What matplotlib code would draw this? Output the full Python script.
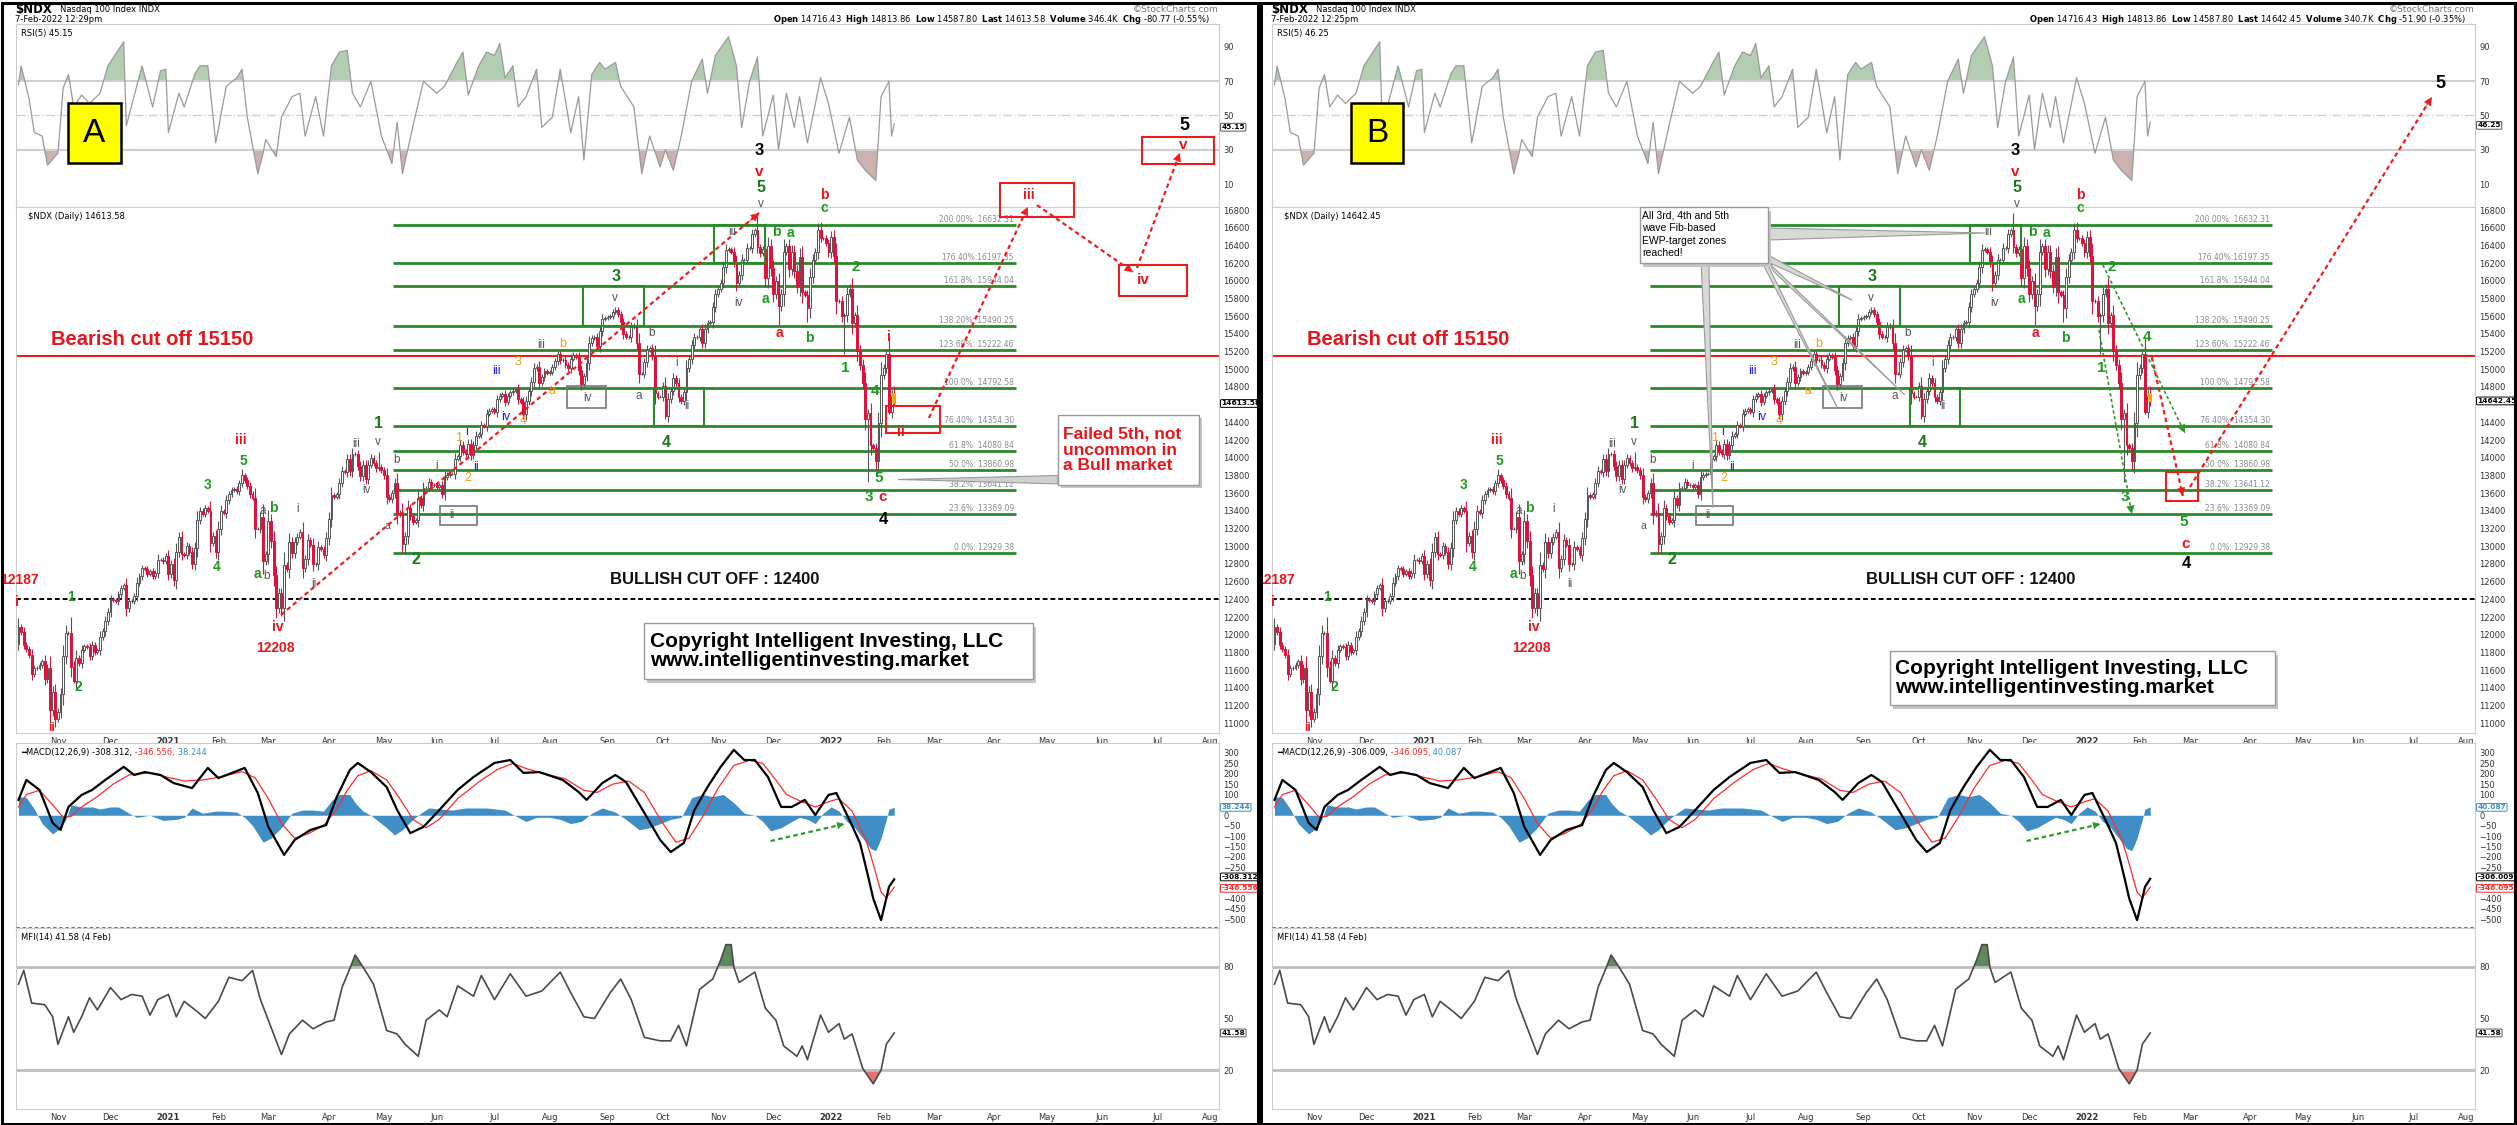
import numpy as np
import pandas as pd
import matplotlib
matplotlib.use('Agg')
import matplotlib.pyplot as plt
from matplotlib.patches import Rectangle, Polygon
from matplotlib.transforms import blended_transform_factory

W, H = 2517, 1125
plt.rcParams['font.family'] = ['DejaVu Sans']
LAB_FONT = 'Liberation Sans'

# NYSE holidays in the plotted range (x axis is in trading days)
holidays = ['2020-11-26', '2020-12-25', '2021-01-01', '2021-01-18', '2021-02-15',
            '2021-04-02', '2021-05-31', '2021-07-05', '2021-09-06', '2021-11-25',
            '2021-12-24', '2022-01-17', '2022-02-21', '2022-04-15', '2022-05-30',
            '2022-06-20', '2022-07-04']

# NDX daily closes 12-Oct-2020 .. 7-Feb-2022
ndx_close = [
    # Oct 2020
    12088, 12030, 11890, 11840, 11770, 11560, 11620, 11630, 11660, 11700, 11500, 11620, 11150, 11350, 11050,
    # Nov
    11130, 11330, 11760, 12020, 12020, 11640, 11480, 11740, 11680, 11830, 11870, 11860, 11760, 11880, 11810,
    11830, 11980, 12040, 12160, 12260,
    # Dec
    12400, 12390, 12380, 12460, 12530, 12560, 12300, 12380, 12380, 12440, 12590, 12660, 12750, 12740, 12690,
    12720, 12660, 12700, 12850, 12850, 12830, 12890,
    # Jan 2021
    12690, 12800, 12620, 12940, 13100, 12910, 12900, 13000, 12940, 12800, 12980, 13300, 13400, 13370, 13430,
    13400, 13040, 13120, 12930,
    # Feb
    13200, 13400, 13380, 13520, 13590, 13640, 13650, 13620, 13710, 13800, 13750, 13680, 13590, 13550, 13200,
    13200, 13330, 12830, 12910,
    # Mar
    13290, 13060, 12670, 12300, 12470, 12300, 12790, 12740, 13050, 12920, 13050, 13110, 13160, 12760, 12860,
    13070, 13020, 12800, 12800, 12990, 12970, 12900, 13090,
    # Apr
    13310, 13580, 13560, 13590, 13720, 13850, 13840, 13990, 13850, 14040, 14040, 13910, 13790, 13920, 13760,
    13920, 14000, 13940, 13880, 13900, 13860,
    # May
    13800, 13560, 13530, 13600, 13720, 13360, 13380, 13030, 13120, 13430, 13340, 13280, 13300, 13540, 13470,
    13660, 13660, 13730, 13690, 13690,
    # Jun
    13670, 13690, 13590, 13780, 13810, 13820, 13820, 13990, 14020, 14150, 14070, 14040, 14160, 14030, 14140,
    14250, 14270, 14370, 14360, 14500, 14530, 14550,
    # Jul
    14520, 14660, 14700, 14720, 14630, 14700, 14740, 14760, 14780, 14660, 14630, 14490, 14640, 14750, 14860,
    15010, 15030, 14850, 14910, 14980, 14960,
    # Aug
    14970, 15030, 15090, 15170, 15100, 15110, 15050, 15010, 15120, 15160, 15140, 14990, 14830, 14920, 15070,
    15300, 15350, 15360, 15260, 15430, 15570, 15580,
    # Sep
    15590, 15600, 15650, 15670, 15620, 15530, 15400, 15370, 15360, 15480, 15500, 15300, 14950, 14950, 15080,
    15220, 15240, 15150, 14730, 14690, 14690,
    # Oct
    14810, 14470, 14660, 14760, 14900, 14840, 14690, 14640, 14740, 15020, 15120, 15270, 15370, 15360, 15450,
    15300, 15450, 15520, 15530, 15700, 15850,
    # Nov
    15910, 15980, 16160, 16350, 16360, 16330, 16210, 15970, 16070, 16240, 16240, 16370, 16370, 16530, 16570,
    16380, 16310, 16360, 16030, 16390, 16140,
    # Dec
    15850, 16000, 15710, 15850, 16330, 16390, 16130, 16330, 16110, 15930, 16270, 15870, 15840, 15690, 16040,
    16230, 16330, 16570, 16480, 16480, 16430, 16320,
    # Jan 2022
    16500, 16280, 15770, 15770, 15600, 15610, 15850, 15910, 15520, 15610, 15210, 15050, 14850, 14440, 14510,
    14140, 14110, 13960, 14390, 14930,
    # Feb
    15020, 15170, 14520, 14700, 14614,
]
first_open = 11900
# intraday extremes that stand out on the chart
wick_high = {'2020-10-12': 12190, '2020-11-09': 12205, '2021-02-12': 13874, '2021-04-29': 14070,
             '2021-09-07': 15700, '2021-11-22': 16764, '2021-12-28': 16660, '2022-01-12': 15960,
             '2022-02-02': 15230}
wick_low = {'2020-10-30': 10960, '2020-11-10': 11450, '2021-03-05': 12250, '2021-03-08': 12208,
            '2021-05-13': 12929, '2021-10-04': 14440, '2021-12-03': 15500, '2021-12-20': 15540,
            '2022-01-10': 15168, '2022-01-24': 13725, '2022-01-27': 13870, '2022-02-03': 14500}
# 7-Feb-2022 intraday bar from the header
today_open, today_high, today_low = 14716.43, 14813.86, 14587.80
last_a, last_b = 14613.58, 14642.45

# RSI(5): trading-day number, value
rsi_day = [0, 1, 4, 6, 9, 11, 15, 17, 19, 21, 24, 27, 31, 34, 40, 41, 47, 51, 54, 56, 57, 61, 63, 67, 69, 72,
           75, 79, 83, 85, 87, 91, 93, 94, 98, 100, 104, 107, 109, 113, 116, 119, 122, 125, 127, 130, 134, 138,
           142, 144, 146, 150, 154, 159, 162, 166, 169, 171, 175, 178, 181, 183, 185, 188, 190, 193, 197, 199,
           203, 206, 210, 213, 215, 218, 221, 223, 227, 229, 234, 237, 240, 244, 246, 249, 252, 256, 260, 262,
           265, 270, 273, 275, 278, 281, 283, 287, 289, 292, 295, 297, 300, 305, 308, 312, 316, 319, 322, 326,
           328, 331, 332, 333]
rsi_val = [68, 79, 60, 40, 38, 21, 28, 66, 74, 55, 62, 57, 63, 79, 93, 44, 79, 55, 76, 77, 40, 63, 55, 74, 79, 79,
           34, 67, 72, 77, 49, 16, 28, 36, 26, 49, 61, 63, 38, 61, 38, 79, 87, 88, 63, 55, 70, 38,
           22, 46, 16, 44, 70, 63, 67, 79, 87, 62, 79, 87, 85, 92, 72, 79, 55, 61, 77, 43,
           49, 77, 40, 61, 24, 74, 81, 77, 81, 67, 55, 16, 38, 20, 30, 18, 38, 70, 83, 63,
           85, 96, 79, 43, 70, 84, 38, 62, 30, 63, 43, 61, 34, 72, 57, 28, 49, 24, 18, 12,
           61, 70, 38, 45.15]

# MACD(12,26,9)
macd_day = [0, 3, 8, 13, 16, 19, 24, 28, 33, 40, 44, 48, 54, 59, 66, 72, 76, 82, 86, 91, 95, 101, 105, 111, 117,
            121, 126, 129, 134, 140, 144, 149, 154, 160, 167, 173, 181, 187, 192, 198, 207, 213, 216, 222, 227,
            231, 238, 244, 248, 253, 257, 262, 267, 272, 276, 280, 285, 290, 294, 299, 303, 308, 311, 316, 320,
            323, 325, 328, 330, 331, 333]
macd_val = [74, 170, 122, -37, -71, 40, 98, 122, 170, 233, 194, 208, 194, 155, 131, 228, 179, 208, 228, 107, -56,
            -191, -119, -71, -47, 88, 218, 252, 208, 136, 25, -86, -56, 25, 122, 184, 252, 266, 204, 208, 170,
            112, 74, 155, 194, 160, 11, -119, -177, -134, 25, 136, 233, 315, 266, 266, 184, 40, 40, 74, 1, 98,
            107, -23, -134, -290, -400, -505, -400, -345, -308.312]
sig_day = [0, 3, 8, 13, 17, 20, 24, 30, 36, 42, 50, 56, 63, 70, 77, 85, 90, 95, 100, 105, 110, 116, 121, 125,
           129, 134, 140, 145, 150, 155, 160, 167, 175, 182, 188, 193, 200, 208, 215, 220, 226, 232, 238, 244,
           250, 255, 260, 266, 272, 278, 283, 288, 292, 297, 303, 308, 312, 317, 320, 322, 324, 326, 328, 330,
           333]
sig_val = [40, 100, 120, 50, -10, -5, 40, 90, 150, 194, 205, 185, 165, 170, 185, 210, 180, 80, -40, -110, -90,
           -50, 30, 120, 190, 215, 170, 80, -20, -60, -20, 80, 160, 220, 250, 225, 200, 175, 120, 110, 150,
           165, 110, -20, -130, -110, -10, 130, 240, 265, 250, 170, 100, 70, 40, 65, 80, 20, -60, -110, -190,
           -280, -370, -398, -346.556]
hist_day = [0, 3, 6, 9, 13, 16, 18, 20, 24, 28, 31, 35, 38, 42, 45, 50, 55, 60, 63, 66, 70, 75, 78, 83, 86, 89,
            93, 96, 100, 104, 108, 112, 116, 119, 122, 126, 128, 131, 134, 137, 140, 143, 146, 150, 153, 156,
            160, 165, 170, 178, 185, 190, 193, 197, 202, 206, 210, 214, 218, 222, 227, 231, 236, 240, 244, 248,
            252, 256, 260, 264, 268, 272, 276, 280, 283, 286, 290, 294, 297, 300, 303, 306, 309, 312, 315, 318,
            321, 324, 326, 328, 330, 331, 333]
hist_val = [90, 85, 30, -40, -90, -60, -20, 50, 40, 40, 30, 40, 40, 10, -10, 0, -25, -20, -10, 35, 10, 20, 20, 15,
            -10, -50, -130, -110, -60, 10, 25, 25, 20, 70, 100, 100, 60, 20, 0, -30, -60, -95, -70, -20, 10, 35,
            30, 25, 35, 35, 25, -10, -30, -10, -10, -20, -40, -30, 10, 35, 15, -20, -70, -60, -40, -20, -10, 85,
            100, 90, 100, 60, 10, 0, -30, -75, -60, -30, -10, -20, -40, 10, 40, 20, -30, -60, -110, -160, -170,
            -110, -20, 30, 38.244]

# MFI(14)
mfi_day = [0, 2, 5, 10, 13, 15, 19, 21, 24, 27, 30, 35, 39, 43, 47, 50, 53, 57, 60, 63, 68, 71, 76, 80, 85, 89,
           92, 97, 100, 103, 108, 112, 117, 120, 123, 126, 128, 131, 135, 140, 144, 147, 152, 155, 160, 163, 167,
           173, 176, 181, 187, 193, 199, 206, 210, 215, 219, 225, 229, 233, 238, 244, 248, 251, 254, 259, 264,
           267, 269, 271, 272, 274, 280, 284, 288, 291, 296, 298, 300, 305, 308, 312, 314, 317, 321, 325, 328,
           330, 333]
mfi_val = [70, 78, 59, 58, 51, 35, 51, 42, 51, 62, 55, 68, 61, 64, 63, 52, 61, 64, 51, 60, 54, 50, 60, 74, 72, 78,
           61, 41, 29, 41, 49, 44, 48, 49, 68, 79, 87, 80, 70, 43, 41, 35, 28, 49, 55, 51, 69,
           63, 75, 61, 76, 63, 66, 77, 65, 51, 50, 65, 73, 61, 39, 37, 37, 46, 34, 67, 73,
           84, 93, 93, 80, 71, 77, 56, 49, 34, 28, 34, 26, 52, 42, 47, 38, 41, 21, 12, 20,
           35, 41.58]

# Fibonacci extension levels
fib_pct = ['200.00%: ', '176.40%:', '161.8%: ', '138.20%: ', '123.60%: ', '100.0%: ', '76.40%: ', '61.8%: ',
           '50.0%: ', '38.2%: ', '23.6%: ', '0.0%: ']
fib_level = [16632.31, 16197.35, 15944.04, 15490.25, 15222.46, 14792.58, 14354.30, 14080.84, 13860.98,
             13641.12, 13369.09, 12929.38]

RED, GRN, DGRN, GRY = '#e8141c', '#1f9a1f', '#1a7a1a', '#555555'
ORG, BLU, BLK = '#f39c12', '#1a1aff', 'black'

# wave labels: trading day, price, text, colour, size, weight
common_labels = [
    (0.2, 12619, '12187', RED, 10, 'bold'), (-0.6, 12370, 'i', RED, 10, 'bold'),
    (12.5, 10945, 'ii', RED, 8.5, 'bold'), (20, 12427, '1', GRN, 10, 'bold'), (22.6, 11410, '2', GRN, 10, 'bold'),
    (72, 13693, '3', GRN, 10, 'bold'), (75.5, 12766, '4', GRN, 10, 'bold'), (85.7, 13964, '5', GRN, 10, 'bold'),
    (84.6, 14201, 'iii', RED, 10, 'bold'), (93, 13399, 'a', GRY, 8.5, 'normal'), (96.8, 13433, 'b', GRN, 10, 'bold'),
    (90.7, 12687, 'a', GRN, 10, 'bold'), (94.5, 12664, 'b', GRY, 8.5, 'normal'), (98.7, 12088, 'iv', RED, 10, 'bold'),
    (97.5, 11851, '12208', RED, 10, 'bold'), (106, 13421, 'i', GRY, 8.5, 'normal'),
    (112.4, 12574, 'ii', GRY, 8.5, 'normal'), (128.3, 14156, 'iii', GRY, 8.5, 'normal'),
    (136.7, 14178, 'v', GRY, 8.5, 'normal'), (132.5, 13636, 'iv', GRY, 8.5, 'normal'),
    (137, 14393, '1', DGRN, 11.5, 'bold'), (143.9, 13975, 'b', GRY, 8.5, 'normal'),
    (140.1, 13229, 'a', GRY, 7.5, 'normal'), (151.1, 12845, '2', DGRN, 11.5, 'bold'),
    (159.1, 13907, 'i', GRY, 8.5, 'normal'), (164.8, 13354, 'ii', GRY, 8.5, 'normal'),
    (167.5, 14224, '1', ORG, 9, 'normal'), (170.5, 14291, 'i', BLU, 9, 'normal'),
    (171, 13772, '2', ORG, 9, 'normal'), (174, 13896, 'ii', BLU, 9, 'normal'),
    (185.4, 14461, 'iv', BLU, 9, 'normal'), (191.8, 14416, '4', ORG, 9, 'normal'),
    (181.6, 14981, 'iii', BLU, 9, 'normal'), (190, 15082, '3', ORG, 9, 'normal'),
    (198.7, 15275, 'iii', GRY, 8.5, 'normal'), (207, 15286, 'b', ORG, 9, 'normal'),
    (202.9, 14755, 'a', ORG, 9, 'normal'), (216.5, 14676, 'iv', GRY, 8.5, 'normal'),
    (227.2, 16043, '3', DGRN, 11.5, 'bold'), (226.8, 15806, 'v', GRY, 8.5, 'normal'),
    (240.9, 15410, 'b', GRY, 8.5, 'normal'), (235.9, 14698, 'a', GRY, 8.5, 'normal'),
    (250.4, 15071, 'i', GRY, 8.5, 'normal'), (254.2, 14585, 'ii', GRY, 8.5, 'normal'),
    (246.2, 14178, '4', DGRN, 11.5, 'bold'), (271.3, 16551, 'iii', GRY, 8.5, 'normal'),
    (273.6, 15749, 'iv', GRY, 8.5, 'normal'), (282.3, 17049, '5', DGRN, 11.5, 'bold'),
    (282.3, 16868, 'v', GRY, 8.5, 'normal'), (281.6, 17478, '3', BLK, 12, 'bold'),
    (281.6, 17229, 'v', RED, 11, 'bold'), (288, 16551, 'b', GRN, 10, 'bold'), (293.7, 16540, 'a', GRN, 10, 'bold'),
    (284.2, 15794, 'a', GRN, 10, 'bold'), (289.5, 15410, 'a', RED, 10, 'bold'), (300.6, 15354, 'b', GRN, 10, 'bold'),
    (306.3, 16970, 'b', RED, 10, 'bold'), (306.3, 16823, 'c', GRN, 10, 'bold'),
    (318.4, 16156, '2', GRN, 11, 'bold'), (314.3, 15015, '1', GRN, 11, 'bold'), (323.4, 13557, '3', GRN, 11, 'bold'),
]
a_labels = [
    (331, 15365, 'i', RED, 10, 'bold'), (325.7, 14755, '4', GRN, 11, 'bold'), (327.2, 13772, '5', GRN, 11, 'bold'),
    (328.7, 13557, 'c', RED, 11, 'bold'), (328.7, 13297, '4', BLK, 12, 'bold'), (335.5, 14291, 'ii', RED, 10, 'bold'),
    (384.1, 16970, 'iii', RED, 10, 'bold'), (427.9, 16009, 'iv', RED, 11, 'bold'),
    (442.8, 17535, 'v', RED, 11, 'bold'), (443.2, 17760, '5', BLK, 13, 'bold'),
]
b_labels = [
    (331.7, 15365, '4', GRN, 11, 'bold'), (345.8, 13274, '5', GRN, 11, 'bold'),
    (346.6, 13026, 'c', RED, 11, 'bold'), (346.9, 12800, '4', BLK, 12, 'bold'),
    (443.2, 18235, '5', BLK, 13, 'bold'),
]

# calendar
days = pd.bdate_range('2020-10-12', '2022-08-31')
days = days[~days.isin(pd.to_datetime(holidays))]
month_starts = pd.date_range('2020-11-01', '2022-08-01', freq='MS')
tick_pos = [int(np.searchsorted(days, m)) for m in month_starts]
tick_lab = [str(m.year) if m.month == 1 else m.strftime('%b') for m in month_starts]
XLIM = (-0.95, 456.5)


def rect(x0, y0, x1, y1):
    return [x0 / W, 1 - y1 / H, (x1 - x0) / W, (y1 - y0) / H]


def lab(ax, x, y, s, color, size, weight='bold'):
    ax.text(x, y, s, color=color, fontsize=size, fontweight=weight, ha='center', va='center',
            family=LAB_FONT, clip_on=False, zorder=9)


def dotted_arrow(ax, p0, p1, color, lw=1.6, head=13):
    ax.plot([p0[0], p1[0]], [p0[1], p1[1]], color=color, lw=lw, ls=(0, (2, 1.5)), clip_on=False, zorder=8)
    q = (p1[0] - 0.03 * (p1[0] - p0[0]), p1[1] - 0.03 * (p1[1] - p0[1]))
    ax.annotate('', xy=p1, xytext=q, annotation_clip=False,
                arrowprops=dict(arrowstyle='-|>', color=color, lw=0.5, mutation_scale=head, shrinkA=0, shrinkB=0))


def box(ax, x0, x1, y0, y1, ec, lw=1.5, fc='none', z=6, shadow=False):
    if shadow:
        ax.add_patch(Rectangle((x0 + 1.3, y0 - 40), x1 - x0, y1 - y0, fc='#c4c4c4', ec='none',
                               clip_on=False, zorder=z - 0.5))
    ax.add_patch(Rectangle((x0, y0), x1 - x0, y1 - y0, fc=fc, ec=ec, lw=lw, clip_on=False, zorder=z))


def tag(ax, y, s, ec, tc='black'):
    tr = blended_transform_factory(ax.transAxes, ax.transData)
    ax.text(1.002, y, s, transform=tr, fontsize=5.3, color=tc, fontweight='bold', va='center', ha='left',
            zorder=10, bbox=dict(boxstyle='round,pad=0.12', fc='white', ec=ec, lw=0.7))


def style(ax):
    ax.set_xlim(*XLIM)
    ax.yaxis.tick_right()
    ax.tick_params(axis='both', length=0, labelsize=6, colors='#333333', pad=3)
    for s in ax.spines.values():
        s.set_color('#cccccc')
        s.set_linewidth(0.8)
    ax.set_xticks([])


def month_axis(ax):
    ax.set_xticks(tick_pos)
    ax.set_xticklabels(tick_lab)
    for t, s in zip(ax.get_xticklabels(), tick_lab):
        if s.isdigit():
            t.set_fontweight('bold')


def candles(ax, last):
    c = np.array(ndx_close, float)
    c[-1] = last
    o = np.r_[first_open, c[:-1]]
    o[-1] = today_open
    pad = 0.25 * np.abs(c - o) + 20
    hi = np.maximum(o, c) + pad
    lo = np.minimum(o, c) - pad
    for d, v in wick_high.items():
        hi[days.get_loc(pd.Timestamp(d))] = v
    for d, v in wick_low.items():
        lo[days.get_loc(pd.Timestamp(d))] = v
    hi[-1], lo[-1] = today_high, today_low
    x = np.arange(len(c))
    up = c >= o
    ax.vlines(x, lo, hi, colors=np.where(up, '#555555', '#d8143c'), lw=0.8, zorder=3)
    ax.bar(x[up], (c - o)[up], bottom=o[up], width=0.7, color='white', edgecolor='#555555', lw=0.7, zorder=4)
    ax.bar(x[~up], (o - c)[~up], bottom=c[~up], width=0.7, color='#e0103a', edgecolor='#e0103a', lw=0.7, zorder=4)
    ax.bar(x[-1], o[-1] - c[-1], bottom=c[-1], width=0.9, color='#e0103a', edgecolor='#f2c200', lw=1.2, zorder=5)


fig = plt.figure(figsize=(W / 100, H / 100), dpi=100)


def panel(dx, name):
    A = name == 'A'
    last = last_a if A else last_b

    # header
    fig.text((15 + dx) / W, 1 - 10 / H, '$NDX', fontsize=8.5, fontweight='bold', va='center')
    fig.text((60 + dx) / W, 1 - 10 / H, 'Nasdaq 100 Index INDX', fontsize=6, va='center')
    fig.text((15 + dx) / W, 1 - 20 / H, '7-Feb-2022 12:29pm' if A else '7-Feb-2022 12:25pm', fontsize=6,
             va='center')
    fig.text((1218 + dx) / W, 1 - 9 / H, '\u00a9StockCharts.com', fontsize=6.5, color='#777777', ha='right',
             va='center')
    hdr = (r'$\mathbf{Open}$ 14716.43  $\mathbf{High}$ 14813.86  $\mathbf{Low}$ 14587.80  '
           r'$\mathbf{Last}$ ' + ('14613.58' if A else '14642.45') + r'  $\mathbf{Volume}$ ' +
           ('346.4K' if A else '340.7K') + r'  $\mathbf{Chg}$ ' + ('-80.77 (-0.55%)' if A else '-51.90 (-0.35%)'))
    fig.text((1210 + dx) / W, 1 - 20 / H, hdr, fontsize=6, ha='right', va='center')

    ax_r = fig.add_axes(rect(16 + dx, 24, 1219 + dx, 207))
    ax_p = fig.add_axes(rect(16 + dx, 207, 1219 + dx, 733))
    ax_m = fig.add_axes(rect(16 + dx, 743, 1219 + dx, 928))
    ax_f = fig.add_axes(rect(16 + dx, 928, 1219 + dx, 1109))
    for ax in (ax_r, ax_p, ax_m, ax_f):
        style(ax)

    # RSI
    rv = np.array(rsi_val, float)
    if not A:
        rv[-1] = 46.25
    ax_r.set_ylim(-3.4, 103.4)
    ax_r.set_yticks([10, 30, 50, 70, 90])
    ax_r.axhline(70, color='#cfcfcf', lw=1.5)
    ax_r.axhline(30, color='#cfcfcf', lw=1.5)
    ax_r.axhline(50, color='#d0d0d0', lw=1, ls='-.')
    ax_r.fill_between(rsi_day, rv, 70, where=rv >= 70, interpolate=True, color='#b3cdb3', lw=0)
    ax_r.fill_between(rsi_day, rv, 30, where=rv <= 30, interpolate=True, color='#cdb0b0', lw=0)
    ax_r.plot(rsi_day, rv, color='#9a9a9a', lw=0.9)
    ax_r.text(0.004, 0.975, 'RSI(5) %.2f' % rv[-1], transform=ax_r.transAxes, fontsize=6, va='top')
    tag(ax_r, rv[-1] - 2, '%.2f' % rv[-1], '#555555')
    bx = (18.8, 39.0) if A else (29.1, 48.9)
    ax_r.add_patch(Rectangle((bx[0], 22), bx[1] - bx[0], 35.5, fc='#ffff00', ec='black', lw=1.8, zorder=6))
    ax_r.text((bx[0] + bx[1]) / 2, 39.5, name, fontsize=24, family=LAB_FONT, ha='center', va='center', zorder=7)

    # price
    ax_p.set_ylim(10890, 16834)
    ax_p.set_yticks([v for v in range(11000, 16801, 200) if v != 14600])
    month_axis(ax_p)
    ax_p.text(0.01, 0.99, '$NDX (Daily) %.2f' % last, transform=ax_p.transAxes, fontsize=6, va='top')
    starts = [142.4] * len(fib_level) if A else [187.6, 187.6] + [142.8] * (len(fib_level) - 2)
    for s, lvl, pct in zip(starts, fib_level, fib_pct):
        ax_p.hlines(lvl, s, 379.3, color='#2a8a2a', lw=2, zorder=2)
        ax_p.text(378.5, lvl + 62, '%s%.2f' % (pct, lvl), ha='right', va='center', fontsize=5.5,
                  color='#8a8a8a', zorder=2)
    ax_p.axhline(15150, color='#ee1c1c', lw=1.5, zorder=2)
    ax_p.axhline(12400, color='black', lw=1.4, ls=(0, (2.5, 1.5)), zorder=2)
    ax_p.text(12.4, 15342, 'Bearish cut off 15150', color=RED, fontsize=14.5, fontweight='bold',
              family=LAB_FONT, va='center', ha='left', zorder=9)
    ax_p.text(264.8, 12619, 'BULLISH CUT OFF : 12400', color='#111111', fontsize=12, fontweight='bold',
              family=LAB_FONT, va='center', ha='center', zorder=9)
    candles(ax_p, last)
    tag(ax_p, last, '%.2f' % last, 'black')

    # zone boxes
    box(ax_p, 214.6, 237.8, 15490.25, 15944.04, '#2a8a2a')
    box(ax_p, 241.6, 260.6, 14354.30, 14792.58, '#2a8a2a')
    box(ax_p, 264.4, 283.9, 16197.35, 16632.31, '#2a8a2a')
    box(ax_p, 160.3, 174.3, 13240, 13455, '#777777', lw=1.2)
    box(ax_p, 208.6, 223.4, 14563, 14811, '#777777', lw=1.2)

    for lbl in common_labels + (a_labels if A else b_labels):
        lab(ax_p, *lbl)

    if A:
        dotted_arrow(ax_p, (99.8, 12224), (281.6, 16766), '#ee1c1c')
        box(ax_p, 373.2, 401.3, 16721, 17105, '#ee1c1c')
        box(ax_p, 418.4, 444.3, 15828, 16179, '#ee1c1c')
        box(ax_p, 427.2, 454.6, 17320, 17625, '#ee1c1c')
        box(ax_p, 329.8, 350.4, 14280, 14585, '#ee1c1c')
        dotted_arrow(ax_p, (346.2, 14450), (383.8, 16834), '#ee1c1c')
        dotted_arrow(ax_p, (387.3, 16856), (423.8, 16099), '#ee1c1c')
        dotted_arrow(ax_p, (425.3, 16145), (441.6, 17444), '#ee1c1c')
        ax_p.add_patch(Polygon([(395.3, 13800), (395.3, 13705), (334.5, 13755)], closed=True, fc='#d0d0d0',
                               ec='#999999', lw=0.8, clip_on=False, zorder=6))
        box(ax_p, 395.3, 448.9, 13693, 14484, '#999999', lw=1, fc='white', z=7, shadow=True)
        ax_p.text(397.2, 14088, 'Failed 5th, not\nuncommon in\na Bull market', color=RED, fontsize=12.5,
                  fontweight='bold', family=LAB_FONT, va='center', ha='left', linespacing=1.05, zorder=8)
        box(ax_p, 237.8, 385.7, 11500, 12133, '#999999', lw=1, fc='white', z=7, shadow=True)
        ax_p.text(240.0, 11817, 'Copyright Intelligent Investing, LLC\nwww.intelligentinvesting.market',
                  fontsize=15, fontweight='bold', family=LAB_FONT, va='center', ha='left', linespacing=1.05,
                  zorder=8)
    else:
        box(ax_p, 339.0, 351.1, 13512, 13839, '#ee1c1c')
        dotted_arrow(ax_p, (333.6, 15139), (345.4, 13568), '#ee1c1c')
        dotted_arrow(ax_p, (348.1, 13670), (440.1, 18077), '#ee1c1c')
        dotted_arrow(ax_p, (313.5, 15444), (326.0, 13365), '#2a9a2a', lw=1.2)
        dotted_arrow(ax_p, (315.0, 16179), (346.2, 14280), '#2a9a2a', lw=1.2)
        for pts in [[(187.6, 16597), (187.6, 16461), (270.2, 16540)],
                    [(187.6, 16291), (187.6, 16212), (219.6, 15783)],
                    [(187.6, 16212), (190.0, 16099), (239.7, 14710)],
                    [(185.3, 16212), (187.6, 16180), (213.9, 14574)],
                    [(162.2, 16201), (165.2, 16201), (166.7, 13433)]]:
            ax_p.add_patch(Polygon(pts, closed=True, fc='#d8d8d8', ec='#9a9a9a', lw=0.8, clip_on=False,
                                   zorder=6))
        box(ax_p, 139.0, 187.6, 16201, 16834, '#999999', lw=1, fc='white', z=7, shadow=True)
        ax_p.text(139.9, 16790, 'All 3rd, 4th and 5th\nwave Fib-based\nEWP-target zones\nreached!',
                  fontsize=7.5, family=LAB_FONT, va='top', ha='left', linespacing=1.3, zorder=8)
        box(ax_p, 234.0, 380.4, 11206, 11817, '#999999', lw=1, fc='white', z=7, shadow=True)
        ax_p.text(235.8, 11512, 'Copyright Intelligent Investing, LLC\nwww.intelligentinvesting.market',
                  fontsize=15, fontweight='bold', family=LAB_FONT, va='center', ha='left', linespacing=1.05,
                  zorder=8)

    # MACD
    mv = np.array(macd_val, float)
    sv = np.array(sig_val, float)
    hv = np.array(hist_val, float)
    if not A:
        mv[-1], sv[-1], hv[-1] = -306.009, -346.095, 40.087
    ax_m.set_ylim(-543, 348)
    ax_m.set_yticks([v for v in range(-500, 301, 50) if v not in (50, -300, -350)])
    ax_m.fill_between(hist_day, 0, hv, color='#3f8fc6', lw=0)
    ax_m.plot(sig_day, sv, color='#ff2a2a', lw=0.9)
    ax_m.plot(macd_day, mv, color='black', lw=1.6)
    dotted_arrow(ax_m, (286, -124), (314, -42), '#2a9a2a', lw=1.6, head=11)
    t1 = ax_m.text(0.004, 0.975, '\u2501MACD(12,26,9) %.3f,' % mv[-1], transform=ax_m.transAxes, fontsize=6,
                   va='top')
    t2 = ax_m.annotate(' %.3f,' % sv[-1], xy=(1, 0), xycoords=t1, va='bottom', fontsize=6, color='#ff2a2a')
    ax_m.annotate(' %.3f' % hv[-1], xy=(1, 0), xycoords=t2, va='bottom', fontsize=6, color='#3f8fc6')
    tag(ax_m, 38, '%.3f' % hv[-1], '#3f8fc6', '#3f8fc6')
    tag(ax_m, -297, '%.3f' % mv[-1], 'black')
    tag(ax_m, -352, '%.3f' % sv[-1], '#ff2a2a', '#ff2a2a')
    ax_m.plot([0, 1], [0, 0], transform=ax_m.transAxes, color='#ff1a1a', lw=2, ls=(0, (1.2, 1)),
              clip_on=False, zorder=5)

    # MFI
    fv = np.array(mfi_val, float)
    ax_f.set_ylim(-2.7, 102.7)
    ax_f.set_yticks([20, 50, 80])
    month_axis(ax_f)
    ax_f.axhline(80, color='#bdbdbd', lw=2)
    ax_f.axhline(20, color='#bdbdbd', lw=2)
    ax_f.fill_between(mfi_day, fv, 80, where=fv >= 80, interpolate=True, color='#5e8a5e', lw=0)
    ax_f.fill_between(mfi_day, fv, 20, where=fv <= 20, interpolate=True, color='#e57373', lw=0)
    ax_f.plot(mfi_day, fv, color='#4a4a4a', lw=1.2)
    ax_f.text(0.004, 0.975, 'MFI(14) 41.58 (4 Feb)', transform=ax_f.transAxes, fontsize=6, va='top')
    tag(ax_f, 41.58, '41.58', '#555555')

    # outer frame
    fig.add_artist(Rectangle(((1.5 + dx * 1.0024) / W, 1.5 / H), (1256 if A else 1254) / W, 1121 / H,
                             transform=fig.transFigure, fc='none', ec='black', lw=2.2))


panel(0, 'A')
panel(1256, 'B')

fig.savefig('out.png', dpi=100)
